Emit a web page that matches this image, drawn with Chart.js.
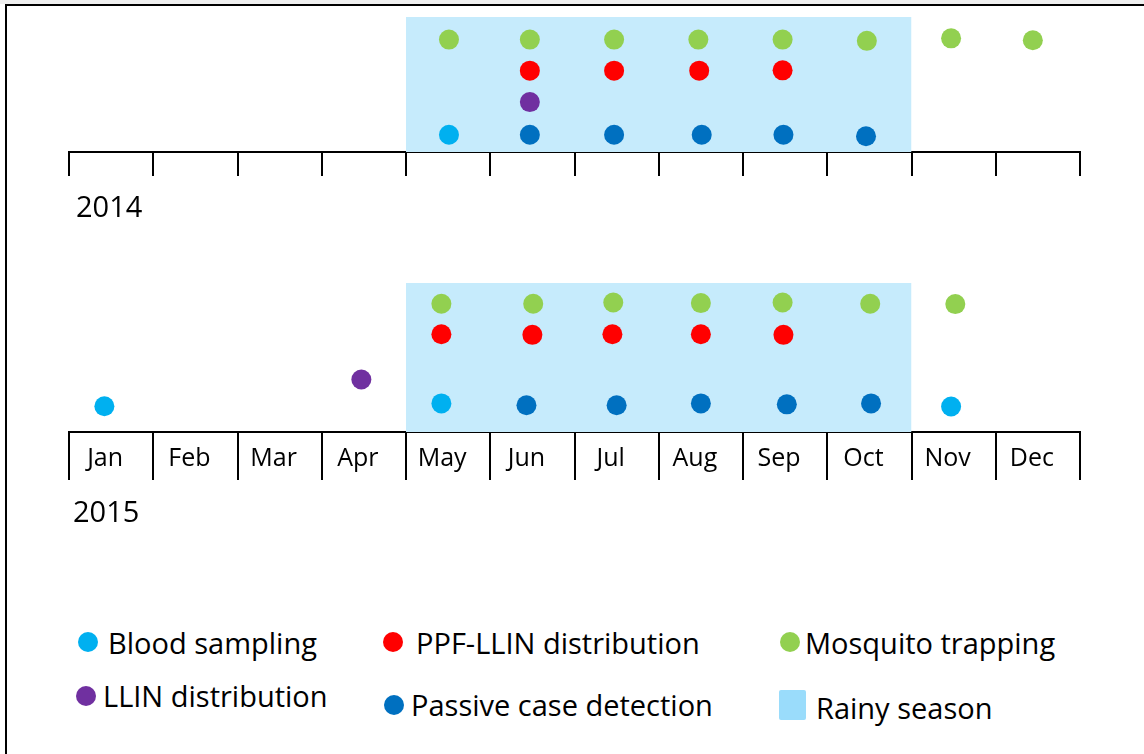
<!DOCTYPE html>
<html>
<head>
<meta charset="utf-8">
<script src="https://cdn.jsdelivr.net/npm/chart.js@4.4.1/dist/chart.umd.min.js"></script>
<style>
  body { margin: 0; background: #fff; font-family: 'Open Sans', sans-serif; }
  #page { position: relative; width: 1144px; height: 754px; overflow: hidden; background: #fff; }
  #strip { position: absolute; left: 0; top: 0; width: 1144px; height: 4px; background: #efefef; }
  #frame { position: absolute; left: 5px; top: 4px; width: 1200px; height: 800px;
           border-left: 2px solid #000; border-top: 2px solid #000; }
  canvas { position: absolute; }
  .year { position: absolute; font-size: 29px; line-height: 29px; color: #000; }
  .lg-text { position: absolute; font-size: 29px; line-height: 29px; color: #000; white-space: nowrap; }
  .lg-mark { position: absolute; }
</style>
</head>
<body>
<div id="page">
  <div id="strip"></div>
  <div id="frame"></div>
  <canvas id="chart2014" width="1051" height="199" style="left:49px;top:0px"></canvas>
  <div class="year" style="left:76px;top:191px">2014</div>
  <canvas id="chart2015" width="1051" height="226" style="left:49px;top:266px"></canvas>
  <div class="year" style="left:73px;top:496px">2015</div>
  <div id="legend"></div>
</div>
<script>
// Months on the time axis and the rainy season (first and last month)
const months = ['Jan', 'Feb', 'Mar', 'Apr', 'May', 'Jun', 'Jul', 'Aug', 'Sep', 'Oct', 'Nov', 'Dec'];
const rainyFrom = 'May';
const rainyTo = 'Oct';

// Activities per year: [month position (Jan = 0), row height above the axis]
const bloodSampling2014 = [[4.01, 0.55]];
const passiveDetection2014 = [[4.97, 0.55], [5.97, 0.55], [7.01, 0.55], [7.98, 0.55], [8.96, 0.50]];
const llinDistribution2014 = [[4.97, 1.59]];
const ppfDistribution2014 = [[4.97, 2.59], [5.97, 2.59], [6.98, 2.59], [7.97, 2.60]];
const mosquitoTrapping2014 = [[4.01, 3.58], [4.97, 3.58], [5.97, 3.58], [6.97, 3.58], [7.97, 3.58], [8.97, 3.54], [9.97, 3.62], [10.94, 3.56]];

const bloodSampling2015 = [[-0.08, 0.82], [3.92, 0.91], [9.97, 0.81]];
const passiveDetection2015 = [[4.93, 0.85], [6.00, 0.85], [7.00, 0.91], [8.02, 0.88], [9.02, 0.91]];
const llinDistribution2015 = [[2.97, 1.67]];
const ppfDistribution2015 = [[3.92, 3.11], [5.00, 3.09], [5.95, 3.11], [7.00, 3.11], [7.98, 3.09]];
const mosquitoTrapping2015 = [[3.92, 4.08], [5.01, 4.08], [5.96, 4.12], [7.00, 4.10], [7.97, 4.12], [9.01, 4.08], [10.02, 4.07]];

// Series names and colours
const series = [
  { key: 'blood', label: 'Blood sampling', color: '#00B0F0' },
  { key: 'ppf', label: 'PPF-LLIN distribution', color: '#FF0000' },
  { key: 'mosquito', label: 'Mosquito trapping', color: '#92D050' },
  { key: 'llin', label: 'LLIN distribution', color: '#7030A0' },
  { key: 'passive', label: 'Passive case detection', color: '#0070C0' }
];
const rainyFill = '#C6EBFC';
const rainyLegend = '#9ADCFB';

function colorOf(key) {
  return series.find(s => s.key === key).color;
}

function toPoints(list) {
  return list.map(p => ({ x: p[0], y: p[1] }));
}

function dotSet(key, list) {
  const s = series.find(item => item.key === key);
  return {
    label: s.label,
    data: toPoints(list),
    backgroundColor: s.color,
    pointBackgroundColor: s.color,
    pointRadius: 10,
    pointHoverRadius: 10,
    pointBorderWidth: 0,
    borderWidth: 0
  };
}

// Draw one year of the timeline
function buildTimeline(id, sets, yMax, tickLength, axisHeight, showLabels) {
  const ctx = document.getElementById(id).getContext('2d');
  const rainy = {
    type: 'line',
    label: 'Rainy season',
    data: [
      { x: months.indexOf(rainyFrom) - 0.5, y: yMax },
      { x: months.indexOf(rainyTo) + 0.5, y: yMax }
    ],
    borderWidth: 0,
    pointRadius: 0,
    fill: 'origin',
    backgroundColor: rainyFill,
    order: 10
  };
  return new Chart(ctx, {
    type: 'scatter',
    data: { datasets: sets.concat([rainy]) },
    options: {
      responsive: false,
      animation: false,
      events: [],
      layout: { padding: { left: 20, right: 20, top: 17, bottom: 0 } },
      plugins: { legend: { display: false }, tooltip: { enabled: false } },
      scales: {
        x: {
          type: 'linear',
          min: -0.5,
          max: 11.5,
          afterBuildTicks: axis => { axis.ticks = months.map((m, i) => ({ value: i })); },
          afterFit: axis => { axis.height = axisHeight; },
          grid: {
            offset: true,
            drawOnChartArea: false,
            drawTicks: true,
            tickLength: tickLength,
            tickWidth: 2,
            tickColor: '#000',
            lineWidth: 2,
            color: '#000'
          },
          border: { display: true, color: '#000', width: 2 },
          ticks: {
            display: showLabels,
            autoSkip: false,
            maxRotation: 0,
            padding: -36,
            labelOffset: -6,
            color: '#000',
            font: { family: 'Open Sans', size: 25 },
            callback: v => months[v]
          }
        },
        y: { display: false, min: 0, max: yMax }
      }
    }
  });
}

buildTimeline('chart2014', [
  dotSet('blood', bloodSampling2014),
  dotSet('passive', passiveDetection2014),
  dotSet('llin', llinDistribution2014),
  dotSet('ppf', ppfDistribution2014),
  dotSet('mosquito', mosquitoTrapping2014)
], 4.30, 24, 47, false);

buildTimeline('chart2015', [
  dotSet('blood', bloodSampling2015),
  dotSet('passive', passiveDetection2015),
  dotSet('llin', llinDistribution2015),
  dotSet('ppf', ppfDistribution2015),
  dotSet('mosquito', mosquitoTrapping2015)
], 4.74, 48, 60, true);

// Legend (positions of the three columns and two rows)
const legendSlots = [
  { key: 'blood', dot: [88, 642], text: [108, 628] },
  { key: 'ppf', dot: [393, 642], text: [416, 628] },
  { key: 'mosquito', dot: [790, 642], text: [805, 628] },
  { key: 'llin', dot: [86, 696], text: [103, 681] },
  { key: 'passive', dot: [394, 705], text: [411, 690] },
  { key: 'rainy', box: [779, 690, 27, 30], text: [816, 693] }
];

const legend = document.getElementById('legend');
legendSlots.forEach(slot => {
  const mark = document.createElement('div');
  mark.className = 'lg-mark';
  const text = document.createElement('div');
  text.className = 'lg-text';
  if (slot.key === 'rainy') {
    mark.style.cssText = `left:${slot.box[0]}px;top:${slot.box[1]}px;width:${slot.box[2]}px;height:${slot.box[3]}px;background:${rainyLegend};border-radius:2px`;
    text.textContent = 'Rainy season';
  } else {
    mark.style.cssText = `left:${slot.dot[0] - 10}px;top:${slot.dot[1] - 10}px;width:20px;height:20px;border-radius:50%;background:${colorOf(slot.key)}`;
    text.textContent = series.find(s => s.key === slot.key).label;
  }
  text.style.left = slot.text[0] + 'px';
  text.style.top = slot.text[1] + 'px';
  legend.appendChild(mark);
  legend.appendChild(text);
});
</script>
</body>
</html>
